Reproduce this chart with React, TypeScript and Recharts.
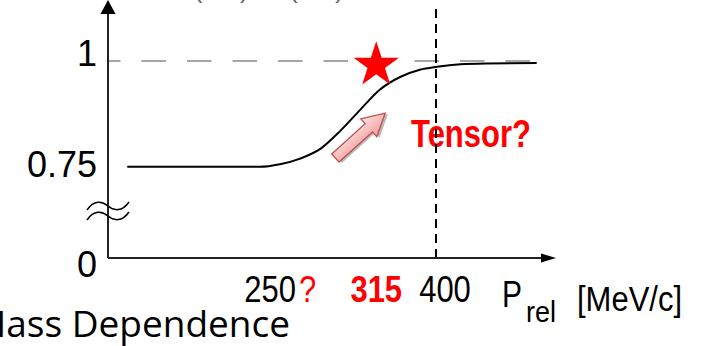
import { Customized, Line, LineChart, ReferenceDot, ReferenceLine, XAxis, YAxis } from "recharts";

// sketch curve: relative momentum [MeV/c] vs ratio
const momentum = [121, 241, 256, 268, 281, 293, 305, 320, 349, 377, 401, 422, 446, 491];
const ratio = [0.75, 0.75, 0.756, 0.769, 0.793, 0.835, 0.884, 0.932, 0.962, 0.979, 0.986, 0.992, 0.994, 0.995];

const xTickValues = [250, 315, 400];
const xTickLabels = ["250", "315", "400"];
// broken y axis: the bottom of the drawn axis is labelled 0
const yTickValues = [0.535, 0.75, 1];
const yTickLabels = ["0", "0.75", "1"];

// the sketch's momentum axis is stretched between 250 and 400
const axisKnotsP = [0, 250, 315, 400, 600];
const axisKnotsU = [0, 250, 346, 400, 600];

const starAt = { p: 315, v: 0.99 };
const pushAt = { p: 305, v: 0.823 };
const breakAt = 0.646;
const cutoff = 400;
const unity = 1;

const FONT = "'Liberation Sans', Arial, sans-serif";
const RED = "#ff0000";

function warp(p: number) {
  for (let i = 1; i < axisKnotsP.length; i++) {
    if (p <= axisKnotsP[i]) {
      const t = (p - axisKnotsP[i - 1]) / (axisKnotsP[i] - axisKnotsP[i - 1]);
      return axisKnotsU[i - 1] + t * (axisKnotsU[i] - axisKnotsU[i - 1]);
    }
  }
  return p;
}

const data = momentum.map((p, i) => ({ u: warp(p), r: ratio[i] }));
const xDomain = [103.6, 498.5];
const yDomain = [0.535, 1.139];

const xLabelShift = [0, 0, 9];
const yLabelDrop = [19, 10, 5];

function XTick(props: any) {
  const { x, y, index } = props;
  const bold = index === 1;
  return (
    <g transform={`translate(${x + xLabelShift[index]},${y + 44}) scale(1,1.22)`} fontFamily={FONT}>
      <text textAnchor="middle" fontSize={31} fontWeight={bold ? 700 : 400} fill={bold ? RED : "#000"}>
        {xTickLabels[index]}
      </text>
      {index === 0 && (
        <text x={29} fontSize={31} fill={RED}>
          ?
        </text>
      )}
    </g>
  );
}

function YTick(props: any) {
  const { x, y, index } = props;
  return (
    <text x={x - 11} y={y + yLabelDrop[index]} textAnchor="end" fontSize={36} fontFamily={FONT} fill="#000">
      {yTickLabels[index]}
    </text>
  );
}

function starShape({ cx, cy }: any) {
  const pts: string[] = [];
  for (let i = 0; i < 10; i++) {
    const r = i % 2 === 0 ? 23.8 : 9.2;
    const a = -Math.PI / 2 + (i * Math.PI) / 5;
    pts.push(`${cx + r * Math.cos(a)},${cy + r * Math.sin(a)}`);
  }
  return <polygon points={pts.join(" ")} fill={RED} />;
}

function pushArrow({ cx, cy }: any) {
  const body = "-33,-5.5 12,-5.5 12,-12 34,0 12,12 12,5.5 -33,5.5";
  return (
    <g transform={`translate(${cx},${cy}) rotate(-42)`}>
      <defs>
        <linearGradient id="pink" x1="0" y1="1" x2="0" y2="0">
          <stop offset="0" stopColor="#ef9b9b" />
          <stop offset="1" stopColor="#fde3e3" />
        </linearGradient>
      </defs>
      <polygon points={body} transform="translate(1.5,2.5)" fill="#8a8a8a" opacity={0.6} />
      <polygon points={body} fill="url(#pink)" stroke="#c0504d" strokeWidth={1.3} />
    </g>
  );
}

function axisBreak({ cx, cy }: any) {
  const wave = (o: number) =>
    `M ${cx - 21} ${cy + o + 4} C ${cx - 14} ${cy + o - 6}, ${cx - 6} ${cy + o - 5}, ${cx} ${cy + o} S ${cx + 14} ${cy + o + 6}, ${cx + 21} ${cy + o - 4}`;
  return (
    <g fill="none" stroke="#000" strokeWidth={1.5}>
      <path d={wave(-5)} />
      <path d={wave(5)} />
    </g>
  );
}

function upArrow({ cx, cy }: any) {
  return <polygon points={`${cx},${cy - 2} ${cx - 7.5},${cy + 12} ${cx + 7.5},${cy + 12}`} fill="#000" />;
}

function rightArrow({ cx, cy }: any) {
  return <polygon points={`${cx + 11},${cy} ${cx - 4},${cy - 4.5} ${cx - 4},${cy + 4.5}`} fill="#000" />;
}

function Annotations() {
  return (
    <g fontFamily={FONT}>
      <text x={175} y={-2} fontSize={26} fill="#666">
        R(NN) / R(NN)
      </text>
      <g transform="translate(411,147) scale(1,1.25)">
        <text fontSize={31} fontWeight={700} fill={RED}>
          Tensor?
        </text>
      </g>
      <g transform="translate(502,307) scale(1,1.25)">
        <text fontSize={30} fill="#000">
          P
        </text>
      </g>
      <g transform="translate(526,322) scale(1,1.1)">
        <text fontSize={27} fill="#000">
          rel
        </text>
      </g>
      <g transform="translate(577,311) scale(1,1.15)">
        <text fontSize={31} fill="#000">
          [MeV/c]
        </text>
      </g>
      <text x={-27} y={337} fontSize={37} fontFamily="'Open Sans', sans-serif" fill="#000">
        Mass Dependence
      </text>
    </g>
  );
}

export default function App() {
  return (
    <div style={{ position: "absolute", left: 0, top: 0, width: 702, height: 346, background: "#fff" }}>
      <LineChart width={702} height={346} data={data} margin={{ top: 2, right: 157, bottom: 28, left: 48 }}>
        <XAxis
          type="number"
          dataKey="u"
          domain={xDomain}
          allowDataOverflow
          ticks={xTickValues.map(warp)}
          tick={<XTick />}
          tickLine={false}
          tickSize={0}
          tickMargin={0}
          height={60}
          axisLine={{ stroke: "#222", strokeWidth: 2 }}
          interval={0}
        />
        <YAxis
          type="number"
          domain={yDomain}
          allowDataOverflow
          ticks={yTickValues}
          tick={<YTick />}
          tickLine={false}
          tickSize={0}
          tickMargin={0}
          width={60}
          axisLine={{ stroke: "#222", strokeWidth: 2 }}
          interval={0}
        />
        <ReferenceLine
          segment={[
            { x: xDomain[0], y: unity },
            { x: warp(momentum[momentum.length - 1]), y: unity },
          ]}
          stroke="#a6a6a6"
          strokeWidth={2}
          strokeDasharray="24.5 21"
          strokeDashoffset={12}
        />
        <ReferenceLine
          segment={[
            { x: warp(cutoff), y: yDomain[0] },
            { x: warp(cutoff), y: 1.125 },
          ]}
          stroke="#000"
          strokeWidth={2}
          strokeDasharray="9 6"
        />
        <Line
          type="monotone"
          dataKey="r"
          stroke="#000"
          strokeWidth={2}
          dot={false}
          activeDot={false}
          isAnimationActive={false}
        />
        <ReferenceDot x={warp(starAt.p)} y={starAt.v} shape={starShape} ifOverflow="visible" />
        <ReferenceDot x={warp(pushAt.p)} y={pushAt.v} shape={pushArrow} ifOverflow="visible" />
        <ReferenceDot x={xDomain[0]} y={breakAt} shape={axisBreak} ifOverflow="visible" />
        <ReferenceDot x={xDomain[0]} y={yDomain[1]} shape={upArrow} ifOverflow="visible" />
        <ReferenceDot x={xDomain[1]} y={yDomain[0]} shape={rightArrow} ifOverflow="visible" />
        <Customized component={Annotations} />
      </LineChart>
    </div>
  );
}
